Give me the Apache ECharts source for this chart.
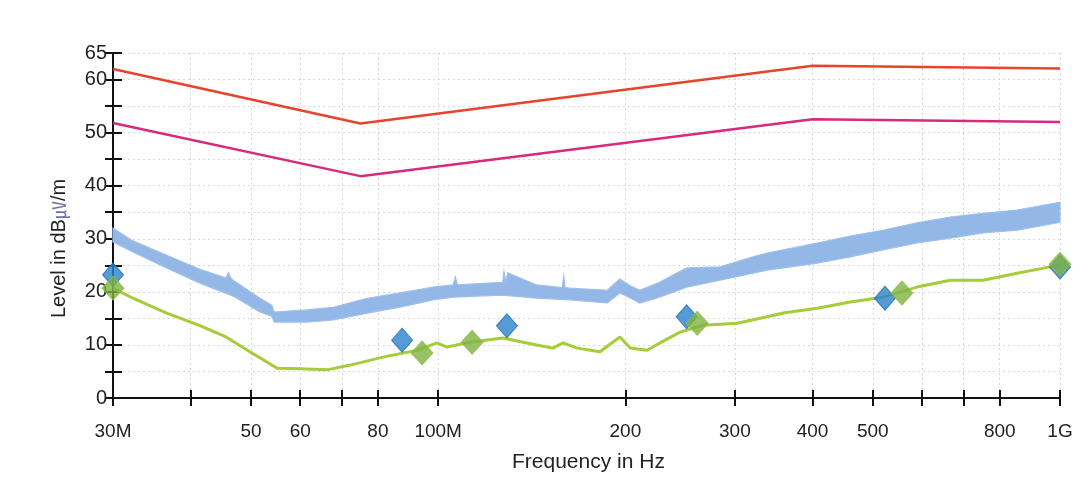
<!DOCTYPE html>
<html>
<head>
<meta charset="utf-8">
<script src="https://cdn.jsdelivr.net/npm/echarts@6/dist/echarts.min.js"></script>
<style>
html,body{margin:0;padding:0;background:#fff;}
#c{width:1088px;height:480px;}
</style>
</head>
<body>
<div id="c"></div>
<script>
// ---- data (frequencies in MHz, levels in dBµV/m) ----
const xTickValues = [30, 40, 50, 60, 70, 80, 100, 200, 300, 400, 500, 600, 700, 800, 1000];
const xLabelValues = [30, 50, 60, 80, 100, 200, 300, 400, 500, 800, 1000];
const xLabelText = {30: '30M', 100: '100M', 1000: '1G'};

const redFreq = [30, 75, 400, 1000];
const redLevel = [62.0, 51.7, 62.6, 62.1];
const pinkFreq = [30, 75, 400, 1000];
const pinkLevel = [51.8, 41.8, 52.5, 52.0];

// peak trace drawn as a band: upper and lower edges
const blueUpperFreq = [30, 32.3, 36.6, 41.3, 45.6, 46.0, 46.4, 46.8, 51.7, 54.0, 54.5, 61.5, 67.8, 76.9, 86.8, 98.2, 105.7, 106.6, 107.4, 127, 127.6, 128.4, 129.4, 144, 158.4, 159.2, 160, 163, 187, 196, 204, 211, 227, 251, 284, 321, 338, 359, 407, 460, 519, 589, 666, 752, 853, 1000];
const blueUpperLevel = [32.0, 29.6, 26.9, 24.3, 22.6, 23.6, 22.6, 22.2, 18.8, 17.5, 16.2, 16.6, 17.1, 18.8, 19.8, 20.9, 21.3, 22.8, 21.3, 21.8, 23.8, 21.9, 23.6, 21.3, 20.8, 23.0, 20.8, 20.7, 20.3, 22.4, 21.1, 20.3, 21.8, 24.5, 24.7, 26.6, 27.3, 27.9, 29.2, 30.5, 31.6, 33.0, 34.1, 34.8, 35.4, 36.9];
const blueLowerFreq = [30, 32.3, 36.6, 41.3, 46.8, 51.7, 54.0, 54.5, 61.5, 67.8, 76.9, 86.8, 98.2, 105.7, 127, 144, 163, 187, 196, 204, 211, 227, 251, 284, 321, 338, 359, 407, 460, 519, 589, 666, 752, 853, 1000];
const blueLowerLevel = [29.4, 27.5, 24.5, 21.7, 19.2, 16.2, 15.4, 14.3, 14.3, 14.7, 16.0, 17.1, 18.5, 19.0, 19.4, 18.8, 18.5, 17.9, 19.8, 18.8, 17.9, 19.0, 20.9, 22.2, 23.5, 24.1, 24.5, 25.4, 26.6, 27.9, 29.2, 30.1, 31.1, 31.6, 33.1];

const greenFreq  = [30, 32.3, 36.6, 41.3, 45.6, 49.8, 55.1, 60, 66.3, 72.2, 81.5, 92.5, 99.6, 103.3, 112.5, 127, 144, 153, 158.8, 167.3, 182, 196, 203.6, 216.8, 227.4, 244.9, 266.7, 302.5, 338, 359, 407, 460, 519, 589, 666, 752, 853, 964, 1000];
const greenLevel = [20.7, 18.8, 16.0, 13.7, 11.5, 8.7, 5.6, 5.5, 5.3, 6.2, 7.7, 9.0, 10.4, 9.6, 10.5, 11.3, 10.0, 9.4, 10.4, 9.4, 8.7, 11.5, 9.4, 9.0, 10.4, 12.4, 13.7, 14.1, 15.3, 16.0, 16.9, 18.1, 19.0, 20.9, 22.2, 22.2, 23.5, 24.7, 24.9];

const blueMarkFreq  = [30, 87.5, 129, 251, 523, 1000];
const blueMarkLevel = [23.2, 10.9, 13.6, 15.3, 18.8, 24.7];
const greenMarkFreq  = [30, 94.2, 113.4, 261, 557, 1000];
const greenMarkLevel = [20.7, 8.5, 10.5, 14.1, 19.8, 25.2];

// ---- build ----
const lg = v => Math.log10(v);
const pairs = (f, v) => f.map((x, i) => [lg(x), v[i]]);

const FONT = '"Liberation Sans", Arial, sans-serif';
const gridLine = {show: true, lineStyle: {color: '#d6d6de', type: [2, 3], width: 1}};

const chart = echarts.init(document.getElementById('c'), null, {renderer: 'canvas'});
chart.setOption({
  backgroundColor: '#ffffff',
  animation: false,
  grid: {left: 113, right: 28, top: 53, bottom: 82, containLabel: false},
  xAxis: [{
    type: 'value', min: lg(30), max: lg(1000),
    axisLine: {show: true, lineStyle: {color: '#111', width: 2}},
    axisTick: {show: true, inside: false, length: 8, lineStyle: {color: '#111', width: 2}, customValues: xTickValues.map(lg)},
    axisLabel: {show: true, margin: 24, color: '#222', fontSize: 19, fontFamily: FONT,
      customValues: xLabelValues.map(lg),
      formatter: v => { const f = Math.round(Math.pow(10, v)); return xLabelText[f] || String(f); }},
    splitLine: gridLine
  }, {
    type: 'value', position: 'bottom', min: lg(30), max: lg(1000),
    axisLine: {show: false},
    axisTick: {show: true, inside: true, length: 8, lineStyle: {color: '#111', width: 2}, customValues: xTickValues.map(lg)},
    axisLabel: {show: false},
    splitLine: {show: false}
  }],
  yAxis: [{
    type: 'value', min: 0, max: 65, interval: 5,
    axisLine: {show: true, lineStyle: {color: '#111', width: 2}},
    axisTick: {show: true, inside: false, length: 8, lineStyle: {color: '#111', width: 2}},
    axisLabel: {show: true, margin: 6, color: '#222', fontSize: 20, fontFamily: FONT,
      formatter: v => (v % 10 === 0 || v === 65) ? String(v) : ''},
    splitLine: gridLine
  }, {
    type: 'value', position: 'left', min: 0, max: 65, interval: 5,
    axisLine: {show: false},
    axisTick: {show: true, inside: true, length: 9, lineStyle: {color: '#111', width: 2}},
    axisLabel: {show: false},
    splitLine: {show: false}
  }],
  graphic: [{
    type: 'text', left: 512, top: 452,
    style: {text: 'Frequency in Hz', fontSize: 21, fontFamily: FONT, fill: '#222'}
  }, {
    type: 'text', x: 49, y: 318, rotation: Math.PI / 2,
    style: {
      text: 'Level in dB{u|㎶}/m', fontSize: 20, fontFamily: FONT, fill: '#222',
      rich: {u: {fontSize: 18, fontFamily: '"Noto Sans CJK SC", "Noto Sans CJK JP", sans-serif', fill: '#6b6fa8'}}
    }
  }],
  series: [{
    type: 'custom', name: 'Peak', xAxisIndex: 0, yAxisIndex: 0, silent: true, z: 2,
    data: [[lg(30), 0]],
    renderItem: (params, api) => {
      const pts = [];
      for (let i = 0; i < blueUpperFreq.length; i++) pts.push(api.coord([lg(blueUpperFreq[i]), blueUpperLevel[i]]));
      for (let i = blueLowerFreq.length - 1; i >= 0; i--) pts.push(api.coord([lg(blueLowerFreq[i]), blueLowerLevel[i]]));
      return {type: 'polygon', shape: {points: pts}, style: {fill: '#93b8e8', stroke: '#9dbfea', lineWidth: 1.2}};
    }
  }, {
    type: 'line', name: 'Average', data: pairs(greenFreq, greenLevel), showSymbol: false, z: 3,
    lineStyle: {color: '#a7cc3a', width: 3}
  }, {
    type: 'line', name: 'Limit QP', data: pairs(redFreq, redLevel), showSymbol: false, z: 3,
    lineStyle: {color: '#e8432b', width: 2.5}
  }, {
    type: 'line', name: 'Limit AV', data: pairs(pinkFreq, pinkLevel), showSymbol: false, z: 3,
    lineStyle: {color: '#d72a7c', width: 2.5}
  }, {
    type: 'scatter', name: 'QP', data: pairs(blueMarkFreq, blueMarkLevel), z: 4,
    symbol: 'diamond', symbolSize: [21, 24],
    itemStyle: {color: '#2b82cc', borderColor: '#1f6db5', borderWidth: 1}
  }, {
    type: 'scatter', name: 'AV', data: pairs(greenMarkFreq, greenMarkLevel), z: 5,
    symbol: 'diamond', symbolSize: [22, 24],
    itemStyle: {color: '#80b140', borderColor: '#8fbf46', borderWidth: 1}
  }]
});
</script>
</body>
</html>
